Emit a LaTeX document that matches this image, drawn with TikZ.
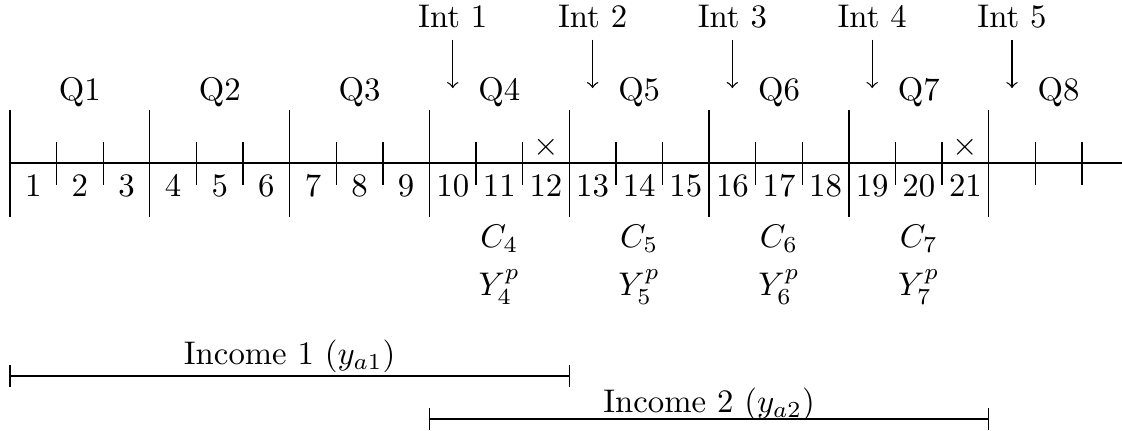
\documentclass[tikz,border=0pt]{standalone}
\usetikzlibrary{arrows.meta,calc}

\begin{document}
\begin{tikzpicture}[x=0.5cm,y=0.5cm,>=to]

\useasboundingbox (-0.215,-5.73) rectangle (23.86,3.50);

% ============================================================
% 1. TIME AXIS (MONTHS AND QUARTERS)
% ============================================================

\draw (0,0) -- (23.86,0);

% Quarter boundaries
\foreach \q in {0,3,...,21}{
  \draw (\q,-1.15) -- (\q,1.15);
}

% Month ticks
\foreach \m in {1,2,4,5,7,8,10,11,13,14,16,17,19,20,22,23}{
  \draw (\m,-0.46) -- (\m,0.46);
}

% Month numbers
\foreach \m in {1,...,21}{
  \node[anchor=north] (m\m) at ({\m-0.5},0) {\m};
}

% Quarter labels
\foreach \q in {1,...,8}{
  \node (q\q) at ({3*\q-1.5},1.52) {Q\q};
}

% ============================================================
% 2. INTERVIEWS
% ============================================================

\foreach \i in {1,...,5}{
  \node (int\i) at ({3*\i+6.5},3.14) {Int \i};
  \coordinate (tip\i) at ({3*\i+6.5},1.61);
  \draw[->] (int\i) -- (tip\i);
}

% Crosses
\node (x12) at (11.5,0.34) {$\times$};
\node (x21) at (20.5,0.34) {$\times$};

% Consumption and permanent income
\foreach \k in {4,...,7}{
  \node (c\k) at ({3*\k-1.5},-1.63) {$C_{\k}$};
  \node (y\k) at ({3*\k-1.5},-2.66) {$Y^p_{\k}$};
}

% ============================================================
% 3. INCOME WINDOWS
% ============================================================

\draw (0,-4.57) -- (12,-4.57);
\draw (0,-4.806) -- (0,-4.334);
\draw (12,-4.806) -- (12,-4.334);
\node[anchor=base] (inc1) at (6,-4.33) {Income 1 ($y_{a1}$)};

\draw (9,-5.49) -- (21,-5.49);
\draw (9,-5.726) -- (9,-5.254);
\draw (21,-5.726) -- (21,-5.254);
\node[anchor=base] (inc2) at (15,-5.36) {Income 2 ($y_{a2}$)};

\end{tikzpicture}
\end{document}
